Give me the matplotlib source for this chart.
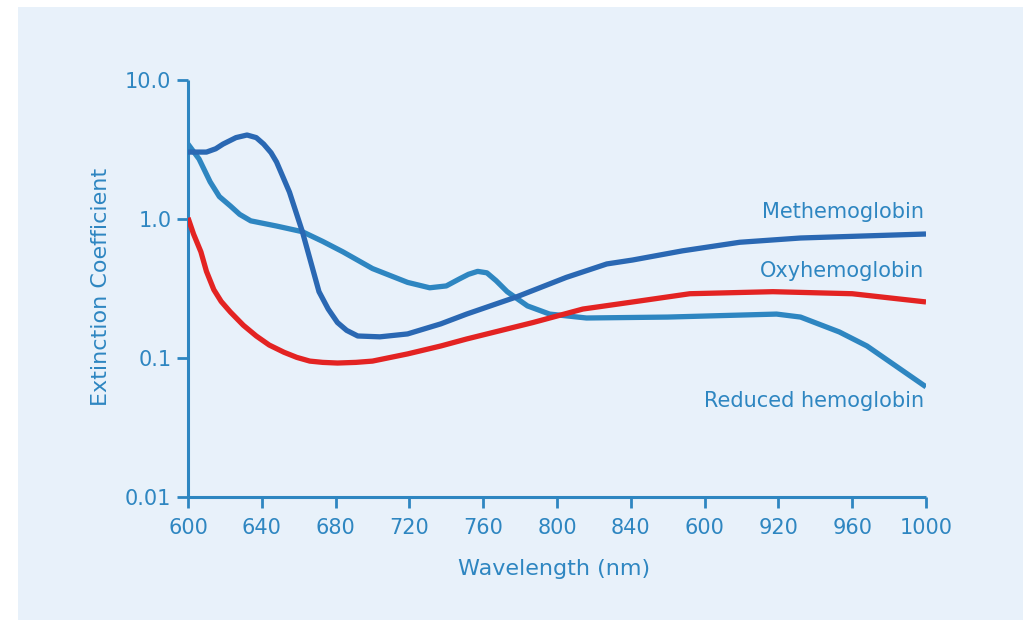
import matplotlib
matplotlib.use("Agg")
import matplotlib.pyplot as plt
from matplotlib.patches import Rectangle

# Wavelength (nm) and extinction coefficient values
meth_x = [600, 610, 615, 619, 626, 632, 637, 641, 645, 648, 655, 662, 671, 676, 681, 686, 692,
          704, 719, 737, 751, 778, 805, 827, 841, 868, 899, 932, 1000]
meth_y = [3.03, 3.03, 3.2, 3.46, 3.85, 4.02, 3.85, 3.46, 3.0, 2.57, 1.56, 0.81, 0.30, 0.225,
          0.18, 0.158, 0.144, 0.142, 0.149, 0.176, 0.207, 0.275, 0.38, 0.475, 0.507, 0.59, 0.68,
          0.73, 0.78]

reduced_x = [600, 606, 612, 617, 623, 628, 634, 648, 662, 673, 684, 700, 719, 731, 740, 747,
             752, 757, 762, 767, 773, 784, 796, 816, 860, 919, 932, 953, 968, 1000]
reduced_y = [3.46, 2.70, 1.85, 1.45, 1.24, 1.08, 0.97, 0.89, 0.81, 0.69, 0.58, 0.44, 0.35, 0.32,
             0.33, 0.37, 0.40, 0.42, 0.41, 0.36, 0.30, 0.237, 0.207, 0.194, 0.197, 0.207, 0.197,
             0.154, 0.122, 0.062]

oxy_x = [600, 603, 607, 610, 614, 618, 623, 630, 637, 644, 652, 659, 666, 673, 681, 691, 700,
         719, 737, 751, 787, 814, 841, 872, 917, 960, 1000]
oxy_y = [1.02, 0.78, 0.58, 0.42, 0.31, 0.255, 0.214, 0.172, 0.144, 0.124, 0.11, 0.101, 0.095,
         0.093, 0.092, 0.093, 0.095, 0.107, 0.122, 0.137, 0.18, 0.225, 0.253, 0.29, 0.30, 0.29,
         0.253]

x_ticks = [600, 640, 680, 720, 760, 800, 840, 880, 920, 960, 1000]
x_tick_labels = ["600", "640", "680", "720", "760", "800", "840", "600", "920", "960", "1000"]
y_ticks = [0.01, 0.1, 1.0, 10.0]
y_tick_labels = ["0.01", "0.1", "1.0", "10.0"]

labels = ["Methemoglobin", "Oxyhemoglobin", "Reduced hemoglobin"]
label_y = [1.12, 0.42, 0.049]

LIGHT = "#2e86c1"
DARK = "#2a68b3"
RED = "#e32322"
BG = "#e8f1fa"

plt.rcParams["font.family"] = ["DejaVu Sans"]

fig = plt.figure(figsize=(10.23, 6.2), dpi=100)
fig.patch.set_facecolor("white")
bg = Rectangle((18 / 1023, 0), 1 - 18 / 1023, 1 - 7 / 620,
               transform=fig.transFigure, facecolor=BG, edgecolor="none", zorder=-10)
fig.add_artist(bg)

ax = fig.add_axes([188 / 1023, 1 - 497 / 620, 738 / 1023, 417 / 620])
ax.set_facecolor("none")
ax.set_zorder(1)

lw = 3.8
ax.plot(reduced_x, reduced_y, color=LIGHT, lw=lw, solid_joinstyle="round", solid_capstyle="butt", zorder=3)
ax.plot(oxy_x, oxy_y, color=RED, lw=lw, solid_joinstyle="round", solid_capstyle="butt", zorder=3)
ax.plot(meth_x, meth_y, color=DARK, lw=lw, solid_joinstyle="round", solid_capstyle="butt", zorder=4)

ax.set_yscale("log")
ax.set_xlim(600, 1000)
ax.set_ylim(0.01, 10.0)
ax.set_xticks(x_ticks)
ax.set_xticklabels(x_tick_labels)
ax.set_yticks(y_ticks)
ax.set_yticklabels(y_tick_labels)
ax.minorticks_off()

for s in ["top", "right"]:
    ax.spines[s].set_visible(False)
for s in ["left", "bottom"]:
    ax.spines[s].set_color(LIGHT)
    ax.spines[s].set_linewidth(2.2)
    ax.spines[s].set_capstyle("butt")

ax.tick_params(axis="both", direction="out", length=8, width=2, color=LIGHT,
               labelcolor=LIGHT, labelsize=15)
ax.tick_params(axis="x", pad=7)
ax.tick_params(axis="y", pad=4)

ax.set_xlabel("Wavelength (nm)", color=LIGHT, fontsize=16)
ax.set_ylabel("Extinction Coefficient", color=LIGHT, fontsize=16)
ax.xaxis.set_label_coords(0.496, -0.148)
ax.yaxis.set_label_coords(-0.105, 0.504)

for name, yv in zip(labels, label_y):
    ax.text(999, yv, name, color=LIGHT, fontsize=15, ha="right", va="center")

fig.savefig("out.png", dpi=100)
